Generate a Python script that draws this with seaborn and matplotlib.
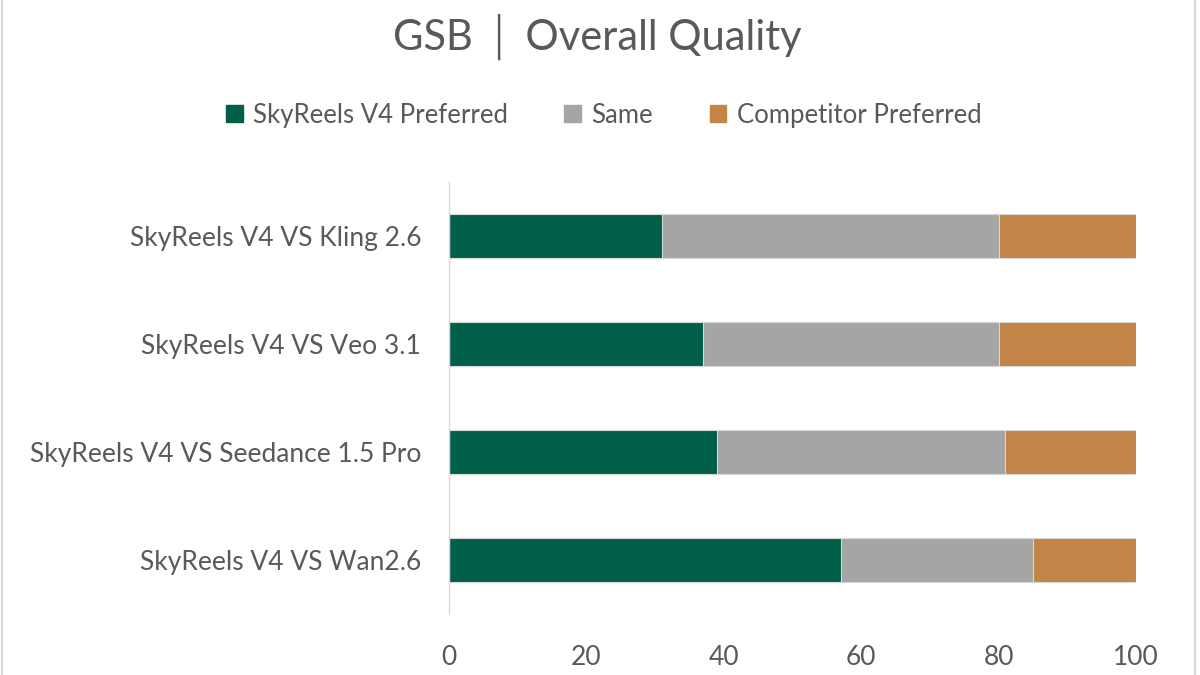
import numpy as np
import pandas as pd
import matplotlib
matplotlib.use("Agg")
import matplotlib.pyplot as plt
import matplotlib.patches as mpatches
import seaborn as sns

# data
matchups = ["SkyReels V4 VS Kling 2.6", "SkyReels V4 VS Veo 3.1",
            "SkyReels V4 VS Seedance 1.5 Pro", "SkyReels V4 VS Wan2.6"]
skyreels_pref = [31, 37, 39, 57]
same = [49, 43, 42, 28]
competitor_pref = [20, 20, 19, 15]

series = ["SkyReels V4 Preferred", "Same", "Competitor Preferred"]
colors = ["#005f49", "#a5a5a5", "#c38447"]

sns.set_theme(style="white")
plt.rcParams['font.family'] = ['Lato', 'DejaVu Sans']
text_col = "#595959"

df = pd.DataFrame({"matchup": matchups, "g": skyreels_pref, "s": same, "b": competitor_pref})
df["gs"] = df["g"] + df["s"]
df["total"] = df["gs"] + df["b"]

fig = plt.figure(figsize=(12, 6.75), dpi=100)
ax = fig.add_axes([449/1200, 1-614/675, (1136-449)/1200, (614-182)/675])

# stacked bars: draw the cumulative totals back to front
for col, c in zip(["total", "gs", "g"], colors[::-1]):
    sns.barplot(data=df, y="matchup", x=col, order=matchups, orient="h",
                color=c, width=0.4, edgecolor="#d9d9d9", linewidth=0.8,
                saturation=1, ax=ax)

ax.set_xlim(0, 100)
ax.set_ylim(3.5, -0.5)
ax.set_xticks(range(0, 101, 20))
ax.set_xlabel("")
ax.set_ylabel("")
for s in ["top", "right", "bottom"]:
    ax.spines[s].set_visible(False)
ax.spines["left"].set_color("#d9d9d9")
ax.spines["left"].set_linewidth(1)
ax.tick_params(axis="both", length=0, colors=text_col, labelsize=19)
ax.tick_params(axis="x", pad=22)
ax.tick_params(axis="y", pad=20)

fig.text(0.498, 0.946, "GSB │ Overall Quality", ha="center", va="center",
         fontsize=30, color=text_col)

handles = [mpatches.Patch(color=c, label=l) for c, l in zip(colors, series)]
fig.legend(handles=handles, loc="center", bbox_to_anchor=(0.503, 0.829), ncol=3,
           frameon=False, fontsize=18.5, handlelength=0.65, handleheight=0.65,
           handletextpad=0.4, columnspacing=2.2, labelcolor=text_col)

# light border like the original chart frame
for x in [2/1200, 1195/1200]:
    fig.add_artist(plt.Line2D([x, x], [0, 1], color="#d9d9d9", lw=1.5))

fig.savefig("out.png", dpi=100)
